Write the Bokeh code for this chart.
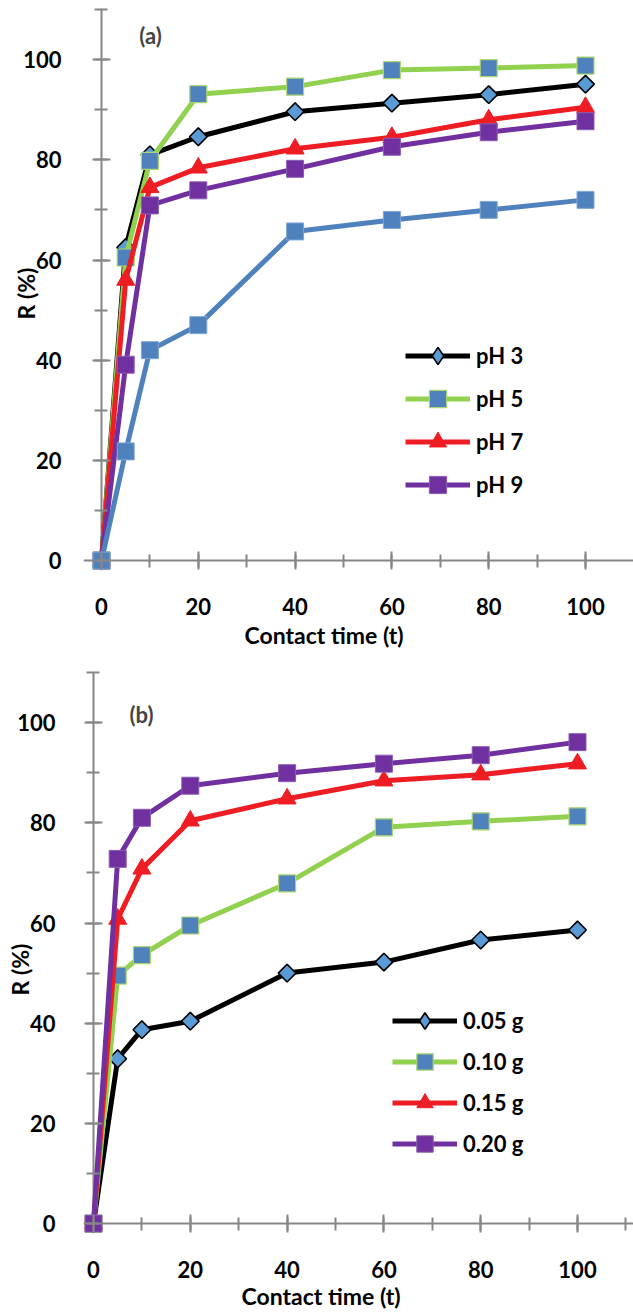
import numpy as np
from bokeh.plotting import figure
from bokeh.layouts import column
from bokeh.models import Legend, LegendItem, Label, SingleIntervalTicker, Range1d, Span, Title
from bokeh.embed import file_html
from bokeh.resources import INLINE

# ---------------- data ----------------
t = [0, 5, 10, 20, 40, 60, 80, 100]

# panel (a): effect of pH
ph3 = [0, 62.5, 81.0, 84.6, 89.6, 91.3, 93.0, 95.1]
ph5 = [0, 60.5, 79.8, 93.1, 94.6, 97.9, 98.3, 98.8]
ph7 = [0, 56.0, 74.5, 78.4, 82.2, 84.5, 88.0, 90.5]
ph9 = [0, 39.1, 70.9, 73.9, 78.2, 82.6, 85.5, 87.7]
ph_extra = [0, 21.8, 42.0, 47.0, 65.7, 68.0, 70.0, 72.0]   # unlabelled blue series
labels_a = ["pH 3", "pH 5", "pH 7", "pH 9"]

# panel (b): effect of dose
d005 = [0, 32.9, 38.7, 40.4, 50.0, 52.2, 56.6, 58.6]
d010 = [0, 49.5, 53.6, 59.5, 67.9, 79.1, 80.3, 81.3]
d015 = [0, 60.8, 70.8, 80.4, 84.8, 88.4, 89.6, 91.8]
d020 = [0, 72.8, 81.0, 87.4, 89.9, 91.8, 93.5, 96.1]
labels_b = ["0.05 g", "0.10 g", "0.15 g", "0.20 g"]

x_label = "Contact time (t)"
y_label = "R (%)"

# ---------------- styles ----------------
FONT = "Lato"
GRAY = "#868686"
PX_X = 4.84
PX_Y = 5.01
W = 633
FRAME_H = 562
Y_END = 110.2
LW = 5
BORDER_LEFT = 83   # both frames share the same left edge (column aligns them)

STY_DIAMOND = dict(line="#000000", marker="square", fill="#5B9BD5", edge="#000000", size=12.5, angle=np.pi / 4, ew=1.6, legend_marker="diamond")
STY_GREEN = dict(line="#92D050", marker="square", fill="#4F81BD", edge="#A9D66F", size=17, angle=0.0, ew=1.2)
STY_RED = dict(line="#EE1D23", marker="triangle", fill="#EE1D23", edge="#EE1D23", size=18, angle=0.0, ew=1.0)
STY_PURPLE = dict(line="#7030A0", marker="square", fill="#7030A0", edge="#8A5DB5", size=17, angle=0.0, ew=1.0)
STY_BLUE = dict(line="#4F81BD", marker="square", fill="#4F81BD", edge="#7EA6D6", size=17, angle=0.0, ew=1.0)


def make_panel(series, height, border_top, border_bottom, mx, my,
               tag, tag_pos, legend_pos, legend_row,
               ytick_standoff, ytitle_offset, ytitle_standoff, xtitle_offset, xtitle_standoff):
    frame_w = W - BORDER_LEFT
    x_start = -mx / PX_X
    x_end = x_start + frame_w / PX_X
    y_start = Y_END - FRAME_H / PX_Y

    p = figure(width=W, height=height, title=None, toolbar_location=None,
               output_backend="svg",
               x_range=Range1d(x_start, x_end), y_range=Range1d(y_start, Y_END),
               min_border_left=BORDER_LEFT, min_border_right=0,
               min_border_top=border_top, min_border_bottom=border_bottom)
    p.outline_line_color = None
    p.xgrid.visible = False
    p.ygrid.visible = False
    p.background_fill_color = "white"
    p.border_fill_color = "white"

    for ax, m in ((p.xaxis[0], my), (p.yaxis[0], mx)):
        ax.ticker = SingleIntervalTicker(interval=20, num_minor_ticks=2)
        ax.axis_line_color = None
        ax.major_tick_line_color = GRAY
        ax.major_tick_line_width = 2
        ax.minor_tick_line_color = GRAY
        ax.minor_tick_line_width = 2
        ax.major_tick_in = m + 9
        ax.major_tick_out = 9 - m
        ax.minor_tick_in = m + 6
        ax.minor_tick_out = 7 - m
        ax.major_label_text_font = FONT
        ax.major_label_text_font_style = "bold"
        ax.major_label_text_font_size = "22px"
        ax.major_label_text_color = "#000000"
    p.yaxis.major_label_standoff = ytick_standoff
    p.xaxis.major_label_standoff = 28

    # axis lines through zero
    p.add_layout(Span(location=0, dimension="height", line_color=GRAY, line_width=2, level="underlay"))
    p.add_layout(Span(location=0, dimension="width", line_color=GRAY, line_width=2, level="underlay"))

    items = []
    for vals, sty, lab in series:
        rl = p.line(t, vals, line_color=sty["line"], line_width=LW, line_join="round")
        rs = p.scatter(t, vals, marker=sty["marker"], size=sty["size"], angle=sty["angle"],
                       fill_color=sty["fill"], line_color=sty["edge"], line_width=sty["ew"])
        leg_r = rs
        if "legend_marker" in sty:
            leg_r = p.scatter(t, vals, marker=sty["legend_marker"], size=sty["size"],
                              fill_color=sty["fill"], line_color=sty["edge"], line_width=sty["ew"],
                              visible=False)
        if lab is not None:
            items.append(LegendItem(label=lab, renderers=[rl, leg_r]))

    leg = Legend(items=items, location=legend_pos, glyph_width=65, glyph_height=legend_row,
                 label_height=legend_row, spacing=0, padding=0, margin=0, label_standoff=6,
                 border_line_alpha=0, background_fill_alpha=0,
                 label_text_font=FONT, label_text_font_style="bold",
                 label_text_font_size="22px", label_text_color="#000000")
    p.add_layout(leg)

    p.add_layout(Label(x=tag_pos[0], y=tag_pos[1], x_units="screen", y_units="screen",
                       text=tag, text_font=FONT, text_font_style="bold", text_font_size="22px",
                       text_align="center", text_baseline="middle"))

    p.add_layout(Title(text=y_label, align="left", offset=ytitle_offset, standoff=ytitle_standoff,
                       vertical_align="bottom", text_font=FONT, text_font_style="bold",
                       text_font_size="23px", text_color="#000000"), "left")
    p.add_layout(Title(text=x_label, align="left", offset=xtitle_offset, standoff=xtitle_standoff,
                       vertical_align="top", text_font=FONT, text_font_style="bold",
                       text_font_size="23px", text_color="#000000"), "below")
    return p


series_a = [
    (ph3, STY_DIAMOND, labels_a[0]),
    (ph5, STY_GREEN, labels_a[1]),
    (ph7, STY_RED, labels_a[2]),
    (ph9, STY_PURPLE, labels_a[3]),
    (ph_extra, STY_BLUE, None),
]
series_b = [
    (d005, STY_DIAMOND, labels_b[0]),
    (d010, STY_GREEN, labels_b[1]),
    (d015, STY_RED, labels_b[2]),
    (d020, STY_PURPLE, labels_b[3]),
]

pa = make_panel(series_a, height=655, border_top=8, border_bottom=85, mx=18, my=10,
                tag="(a)", tag_pos=(67, 535), legend_pos=(322, 64.5), legend_row=43,
                ytick_standoff=31, ytitle_offset=251, ytitle_standoff=-38,
                xtitle_offset=161, xtitle_standoff=7)
pb = make_panel(series_b, height=658, border_top=16, border_bottom=80, mx=10, my=10,
                tag="(b)", tag_pos=(58, 519), legend_pos=(309, 69.5), legend_row=41,
                ytick_standoff=29, ytitle_offset=238, ytitle_standoff=-38,
                xtitle_offset=158, xtitle_standoff=2)

layout = column(pa, pb, spacing=0)
open("out.html", "w").write(file_html(layout, INLINE))
